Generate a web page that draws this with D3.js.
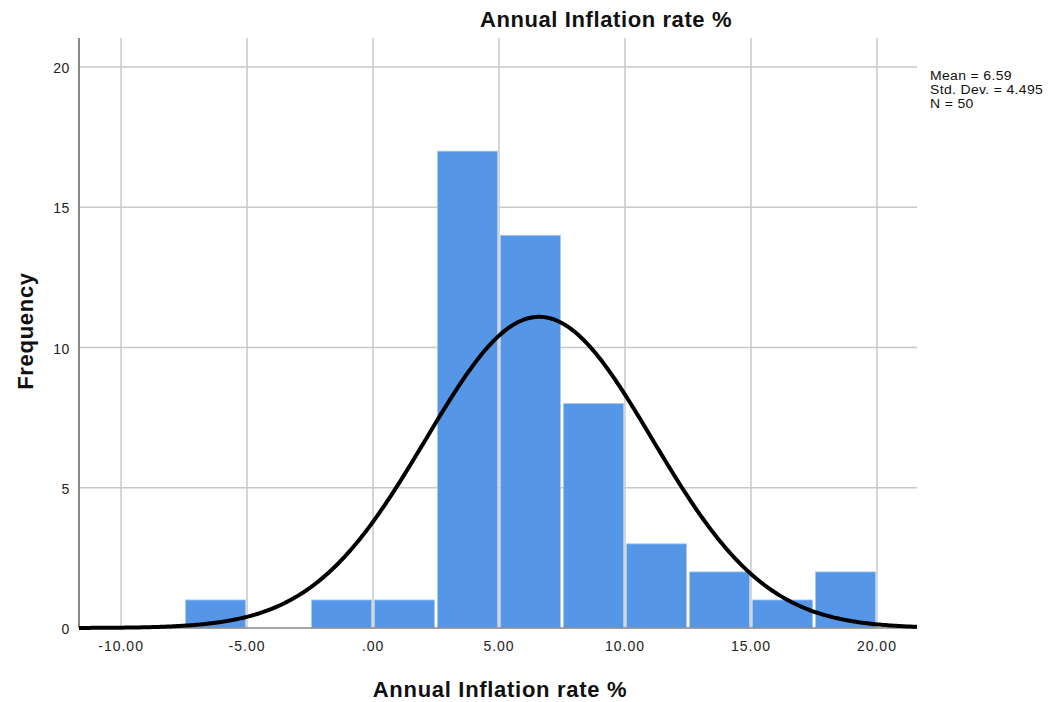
<!DOCTYPE html>
<html>
<head>
<meta charset="utf-8">
<script src="https://cdn.jsdelivr.net/npm/d3@7"></script>
<style>
  body { margin: 0; background: #fff; }
  svg { display: block; font-family: "Liberation Sans", Arial, sans-serif; }
</style>
</head>
<body>
<svg id="chart" width="1055" height="702"></svg>
<script>
// Histogram bins (lower edge) and counts
const binStarts = [-7.5, -2.5, 0, 2.5, 5, 7.5, 10, 12.5, 15, 17.5];
const binWidth = 2.5;
const counts = [1, 1, 1, 17, 14, 8, 3, 2, 1, 2];
const xTicks = [-10, -5, 0, 5, 10, 15, 20];
const xTickLabels = ["-10.00", "-5.00", ".00", "5.00", "10.00", "15.00", "20.00"];
const yTicks = [0, 5, 10, 15, 20];
const stats = { mean: 6.59, sd: 4.495, n: 50 };
const statLines = ["Mean = 6.59", "Std. Dev. = 4.495", "N = 50"];

(function () {
const svg = d3.select("#chart");
const pLeft = 79, pRight = 917, pTop = 38, pBottom = 628;

const x = d3.scaleLinear().domain([-11.67, 21.59]).range([pLeft, pRight]);
const y = d3.scaleLinear().domain([0, 20]).range([pBottom, 67]);

// grid
const grid = svg.append("g");
grid.selectAll("line.v").data(xTicks).join("line")
  .attr("x1", d => x(d)).attr("x2", d => x(d))
  .attr("y1", pTop).attr("y2", pBottom)
  .attr("stroke", "#c8c8c8").attr("stroke-width", 1.5);
grid.selectAll("line.h").data(yTicks.filter(d => d > 0)).join("line")
  .attr("x1", pLeft).attr("x2", pRight)
  .attr("y1", d => y(d)).attr("y2", d => y(d))
  .attr("stroke", "#c8c8c8").attr("stroke-width", 1.5);

// bars
svg.append("g").selectAll("rect").data(binStarts.map((s, i) => ({ s, c: counts[i] }))).join("rect")
  .attr("x", d => x(d.s) + 1.5)
  .attr("width", d => x(d.s + binWidth) - x(d.s) - 3)
  .attr("y", d => y(d.c))
  .attr("height", d => y(0) - y(d.c))
  .attr("fill", "#5596e6")
  .attr("stroke", "#a9c8f0").attr("stroke-width", 0.8);

// axis lines
svg.append("line").attr("x1", pLeft).attr("x2", pRight).attr("y1", pBottom).attr("y2", pBottom)
  .attr("stroke", "#888").attr("stroke-width", 1.5);
svg.append("line").attr("x1", pLeft).attr("x2", pLeft).attr("y1", pTop).attr("y2", pBottom)
  .attr("stroke", "#888").attr("stroke-width", 2);

// normal curve scaled to the histogram: N * binWidth * pdf
const pdf = v => Math.exp(-0.5 * ((v - stats.mean) / stats.sd) ** 2) / (stats.sd * Math.sqrt(2 * Math.PI));
const [d0, d1] = x.domain();
const xs = d3.range(0, 401).map(i => d0 + (d1 - d0) * i / 400);
svg.append("path")
  .datum(xs)
  .attr("d", d3.line().x(d => x(d)).y(d => y(stats.n * binWidth * pdf(d))))
  .attr("fill", "none").attr("stroke", "#000").attr("stroke-width", 4);

// tick labels
svg.append("g").selectAll("text").data(yTicks).join("text")
  .attr("x", 70).attr("y", d => y(d) + 6)
  .attr("text-anchor", "end").attr("font-size", 14).attr("letter-spacing", 0.6).attr("fill", "#222")
  .text(d => d);
svg.append("g").selectAll("text").data(xTicks).join("text")
  .attr("x", d => x(d)).attr("y", 651)
  .attr("text-anchor", "middle").attr("font-size", 14).attr("letter-spacing", 1).attr("fill", "#222")
  .text((d, i) => xTickLabels[i]);

// titles
svg.append("text").attr("x", 606).attr("y", 27).attr("text-anchor", "middle")
  .attr("font-size", 22).attr("letter-spacing", 0.6).attr("font-weight", "bold").attr("fill", "#111")
  .text("Annual Inflation rate %");
svg.append("text").attr("x", 500).attr("y", 697).attr("text-anchor", "middle")
  .attr("font-size", 22).attr("letter-spacing", 0.7).attr("font-weight", "bold").attr("fill", "#111")
  .text("Annual Inflation rate %");
svg.append("text").attr("transform", "translate(33,331) rotate(-90)").attr("text-anchor", "middle")
  .attr("font-size", 22).attr("letter-spacing", 0.7).attr("font-weight", "bold").attr("fill", "#111")
  .text("Frequency");

// statistics, slightly widened
svg.append("g").attr("transform", "translate(930,0) scale(1.12,1)")
  .selectAll("text").data(statLines).join("text")
  .attr("x", 0).attr("y", (d, i) => 80 + i * 14)
  .attr("font-size", 12.5).attr("letter-spacing", 0.3).attr("fill", "#111")
  .text(d => d);
})();
</script>
</body>
</html>
